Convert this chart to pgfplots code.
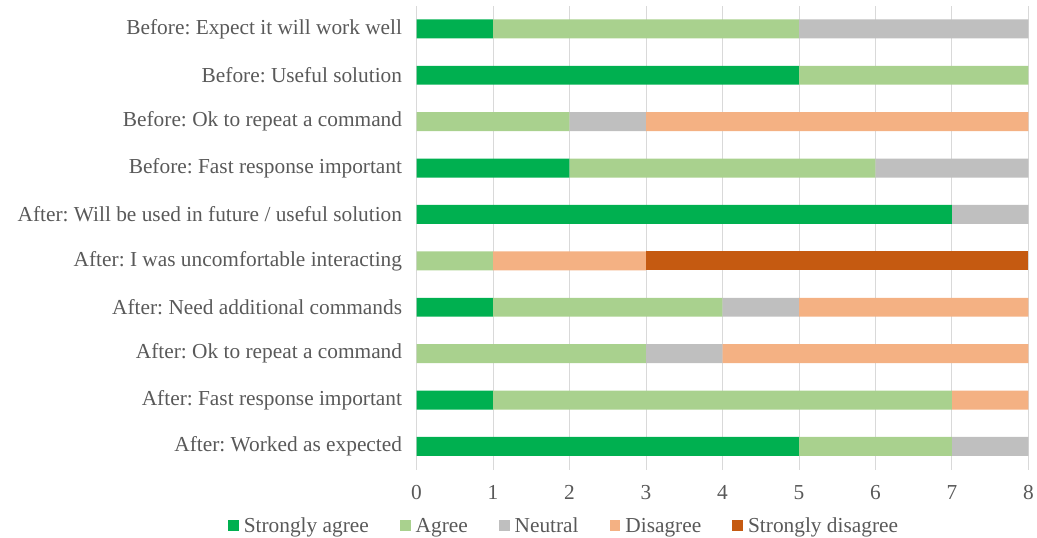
\documentclass[border=0pt]{standalone}
\usepackage{fontspec}
\setmainfont{Liberation Serif}
\usepackage{pgfplots}
\pgfplotsset{compat=1.18}
\usepackage{pgfplotstable}
\definecolor{txt}{HTML}{595959}
\definecolor{cSA}{HTML}{00B050}
\definecolor{cA}{HTML}{A9D18E}
\definecolor{cN}{HTML}{BFBFBF}
\definecolor{cD}{HTML}{F4B183}
\definecolor{cSD}{HTML}{C55A11}
\definecolor{grd}{HTML}{D9D9D9}
\pgfplotstableread{
y SA A N D SD
0 5 2 1 0 0
1 1 6 0 1 0
2 0 3 1 4 0
3 1 3 1 3 0
4 0 1 0 2 5
5 7 0 1 0 0
6 2 4 2 0 0
7 0 2 1 5 0
8 5 3 0 0 0
9 1 4 3 0 0
}\datatable
\frenchspacing
\begin{document}
\frenchspacing
\begin{tikzpicture}
\begin{axis}[
  scale only axis,
  width=614bp, height=465.6bp,
  xbar stacked,
  bar width=19bp,
  xmin=0, xmax=8,
  ymin=-0.5, ymax=9.5,
  xtick={0,1,...,8},
  ytick={0,...,9},
  yticklabels={After: Worked as expected, After: Fast response important, After: Ok to repeat a command, After: Need additional commands, After: I was uncomfortable interacting, After: Will be used in future / useful solution, Before: Fast response important, Before: Ok to repeat a command, Before: Useful solution, Before: Expect it will work well},
  font=\fontsize{21.5}{24}\selectfont\frenchspacing,
  /pgf/number format/assume math mode=true,
  tick label style={text=txt},
  xticklabel style={yshift=-12bp},
  yticklabel style={xshift=-11bp},
  major tick length=0pt,
  axis line style={draw=none},
  xmajorgrids,
  grid style={grd, line width=0.8bp},
  legend style={draw=none, fill=none, at={(rel axis cs:0.241,-0.121)}, anchor=center,
    legend columns=5, text=txt, font=\fontsize{21.5}{24}\selectfont,
    /tikz/every even column/.append style={column sep=29bp}},
  legend cell align=left,
  legend image code/.code={\fill[#1] (0bp,-5.5bp) rectangle (11bp,5.5bp); \path (14bp,0bp);},
]
\addplot[fill=cSA, draw=none] table[x=SA, y=y] {\datatable};
\addplot[fill=cA, draw=none] table[x=A, y=y] {\datatable};
\addplot[fill=cN, draw=none] table[x=N, y=y] {\datatable};
\addplot[fill=cD, draw=none] table[x=D, y=y] {\datatable};
\addplot[fill=cSD, draw=none] table[x=SD, y=y] {\datatable};
\legend{Strongly agree, Agree, Neutral, Disagree, Strongly disagree}
\end{axis}
\path (current axis.south west) ++(-418bp,-67bp) coordinate (bl);
\path (current axis.north east) ++(5bp,5.7bp) coordinate (tr);
\useasboundingbox (bl) rectangle (tr);
\end{tikzpicture}
\end{document}
